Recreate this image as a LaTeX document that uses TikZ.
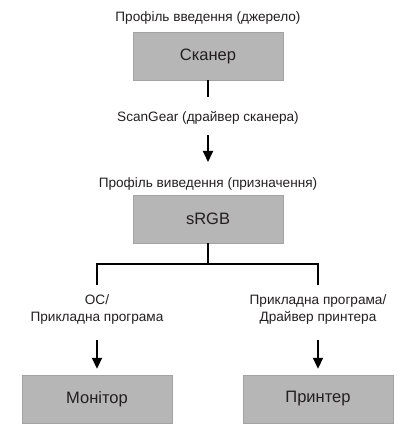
\documentclass[tikz,border=0pt]{standalone}
\usepackage{fontspec}
\setmainfont{Liberation Sans}
\usetikzlibrary{arrows.meta,positioning,shadows}
\definecolor{BoxFill}{HTML}{B6B6B6}
\definecolor{BoxLine}{HTML}{A3A3A3}
\definecolor{Ink}{HTML}{231F20}

\begin{document}
\begin{tikzpicture}[x=1pt, y=-1pt,
  every node/.style={font=\fontsize{13.6}{17}\selectfont, align=center, text=Ink},
  devbox/.style={fill=BoxFill, draw=BoxLine, minimum width=150pt, minimum height=48pt,
                 font=\fontsize{16.5}{19}\selectfont,
                 drop shadow={shadow xshift=1.2pt, shadow yshift=-1.2pt, opacity=0.45}},
  link/.style={line width=1.8pt},
  flow/.style={line width=1.8pt, -{Triangle[width=10pt, length=11pt]}}]
  \useasboundingbox (0,0) rectangle (416,446);

  % source side
  \node (srclbl) at (208,18) {Профіль введення (джерело)};
  \node[devbox] (scan) at (208,56) {Сканер};
  \node (gear) at (208,118) {ScanGear (драйвер сканера)};
  \coordinate (gearin) at (208,97);
  \coordinate (gearout) at (208,135);
  \coordinate (dstin) at (208,162);

  % destination profile
  \node (dstlbl) at (208,184) {Профіль виведення (призначення)};
  \node[devbox] (srgb) at (208,219) {sRGB};
  \coordinate (split) at (208,264);
  \coordinate (osin) at (97,285);
  \coordinate (drvin) at (318,285);

  % output devices
  \node (oslbl) at (97,309) {ОС/\\Прикладна програма};
  \node (drvlbl) at (318,309) {Прикладна програма/\\Драйвер принтера};
  \coordinate (osout) at (97,340);
  \coordinate (drvout) at (318,340);
  \node[devbox] (mon) at (97,399) {Монітор};
  \node[devbox] (prn) at (318,399) {Принтер};

  \draw[link] (scan.south) -- (gearin);
  \draw[flow] (gearout) -- (dstin);
  \draw[link] (srgb.south) -- (split) -| (osin);
  \draw[link] (split) -| (drvin);
  \draw[flow, shorten >=6pt] (osout) -- (mon.north);
  \draw[flow, shorten >=6pt] (drvout) -- (prn.north);
\end{tikzpicture}
\end{document}
